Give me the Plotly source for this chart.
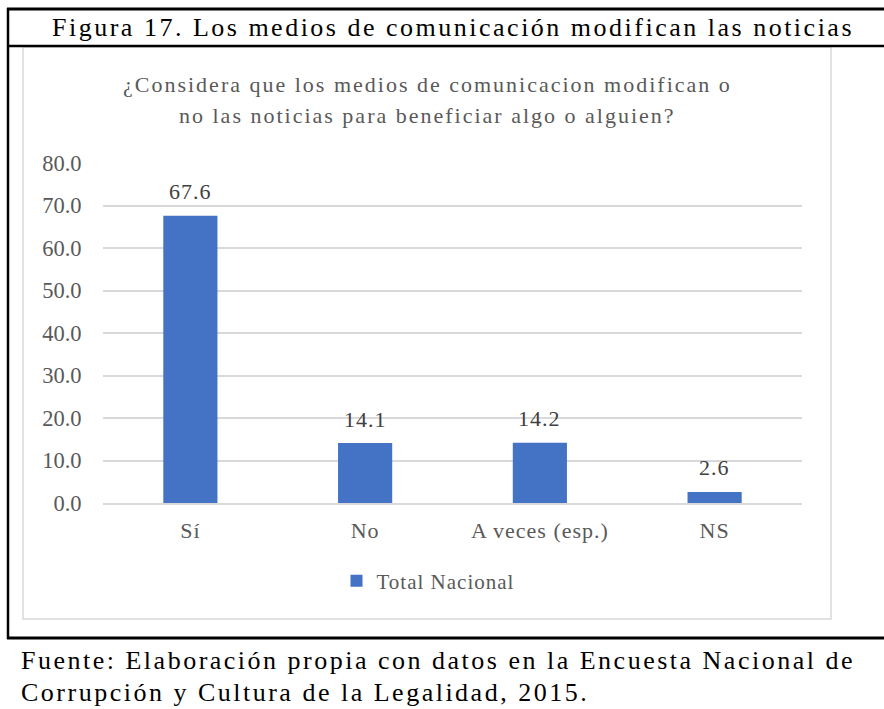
import plotly.graph_objects as go

categories = ["Sí", "No", "A veces (esp.)", "NS"]
values = [67.6, 14.1, 14.2, 2.6]
value_labels = ["67.6", "14.1", "14.2", "2.6"]
y_ticks = [0, 10, 20, 30, 40, 50, 60, 70, 80]
y_tick_labels = ["0.0", "10.0", "20.0", "30.0", "40.0", "50.0", "60.0", "70.0", "80.0"]
series_name = "Total Nacional"
figure_title = "Figura 17. Los medios de comunicación modifican las noticias"
chart_title = ["¿Considera que los medios de comunicacion modifican o",
               "no las noticias para beneficiar algo o alguien?"]
source_lines = ["Fuente: Elaboración propia con datos en la Encuesta Nacional de",
                "Corrupción y Cultura de la Legalidad, 2015."]

FIG_W, FIG_H = 884, 709
L, R, T, B = 103, 802, 163, 503
W, H = R - L, B - T

def px(x):
    return (x - L) / W

def py(y):
    return (B - y) / H

def sp(text, ls):
    return f'<span style="letter-spacing:{ls}px">{text}</span>'

FONT = "Liberation Serif, Times New Roman, serif"
GREY = "#595959"
GRID = "#D9D9D9"

fig = go.Figure()
fig.add_trace(go.Bar(
    x=categories, y=values, name=sp(series_name, 1.0),
    marker=dict(color="#4472C4", line=dict(width=0)),
    width=0.31, showlegend=True, hoverinfo="skip",
))

annotations = []
for c, v, t in zip(categories, values, value_labels):
    annotations.append(dict(x=c, y=v, xref="x", yref="y", text=sp(t, 1), showarrow=False,
                            yanchor="middle", yshift=24,
                            font=dict(family=FONT, size=22, color="#404040")))

annotations += [
    dict(x=px(453), y=py(27), xref="paper", yref="paper", showarrow=False,
         text=sp(figure_title, 2.5), xanchor="center", yanchor="middle",
         font=dict(family=FONT, size=26, color="black")),
    dict(x=px(427), y=py(85), xref="paper", yref="paper", showarrow=False,
         text=sp(chart_title[0], 2.0), xanchor="center", yanchor="middle",
         font=dict(family=FONT, size=22, color=GREY)),
    dict(x=px(427), y=py(115), xref="paper", yref="paper", showarrow=False,
         text=sp(chart_title[1], 2.0), xanchor="center", yanchor="middle",
         font=dict(family=FONT, size=22, color=GREY)),
    dict(x=px(19), y=py(660), xref="paper", yref="paper", showarrow=False,
         text=sp(source_lines[0], 2.5), xanchor="left", yanchor="middle",
         font=dict(family=FONT, size=26, color="black")),
    dict(x=px(19), y=py(692), xref="paper", yref="paper", showarrow=False,
         text=sp(source_lines[1], 2.5), xanchor="left", yanchor="middle",
         font=dict(family=FONT, size=26, color="black")),
]

shapes = [
    dict(type="rect", xref="paper", yref="paper", x0=px(23), x1=px(831), y0=py(47), y1=py(619),
         line=dict(color=GRID, width=1.5), fillcolor="rgba(0,0,0,0)", layer="below"),
    dict(type="line", xref="paper", yref="paper", x0=px(8), x1=px(8), y0=py(8), y1=py(639),
         line=dict(color="black", width=2.5)),
    dict(type="line", xref="paper", yref="paper", x0=px(7), x1=px(884), y0=py(9), y1=py(9),
         line=dict(color="black", width=3)),
    dict(type="line", xref="paper", yref="paper", x0=px(7), x1=px(884), y0=py(46), y1=py(46),
         line=dict(color="black", width=2.5)),
    dict(type="line", xref="paper", yref="paper", x0=px(7), x1=px(884), y0=py(638), y1=py(638),
         line=dict(color="black", width=3)),
]

fig.update_layout(
    width=FIG_W, height=FIG_H,
    margin=dict(l=L, r=FIG_W - R, t=T, b=FIG_H - B, pad=0),
    paper_bgcolor="white", plot_bgcolor="white",
    font=dict(family=FONT, color=GREY, size=22),
    bargap=0.69,
    showlegend=True,
    hovermode=False,
    legend=dict(orientation="h", x=px(428), y=py(581), xanchor="center", yanchor="middle",
                font=dict(family=FONT, size=21, color=GREY), bgcolor="rgba(0,0,0,0)"),
    annotations=annotations,
    shapes=shapes,
    xaxis=dict(showgrid=False, showline=True, linecolor=GRID, linewidth=1.5,
               tickvals=categories, ticktext=[sp(c, 1) for c in categories],
               ticks="outside", ticklen=7, tickcolor="rgba(0,0,0,0)",
               tickfont=dict(family=FONT, size=22, color=GREY)),
    yaxis=dict(range=[0, 80], tickvals=y_ticks, ticktext=y_tick_labels,
               showgrid=True, gridcolor=GRID, gridwidth=1.5, zeroline=False,
               showline=False, ticks="outside", ticklen=16, tickcolor="rgba(0,0,0,0)",
               tickfont=dict(family=FONT, size=22.5, color=GREY)),
)

fig.write_html("out.html", config={"displayModeBar": False, "staticPlot": False},
               post_script="document.body.style.margin='0px';")
